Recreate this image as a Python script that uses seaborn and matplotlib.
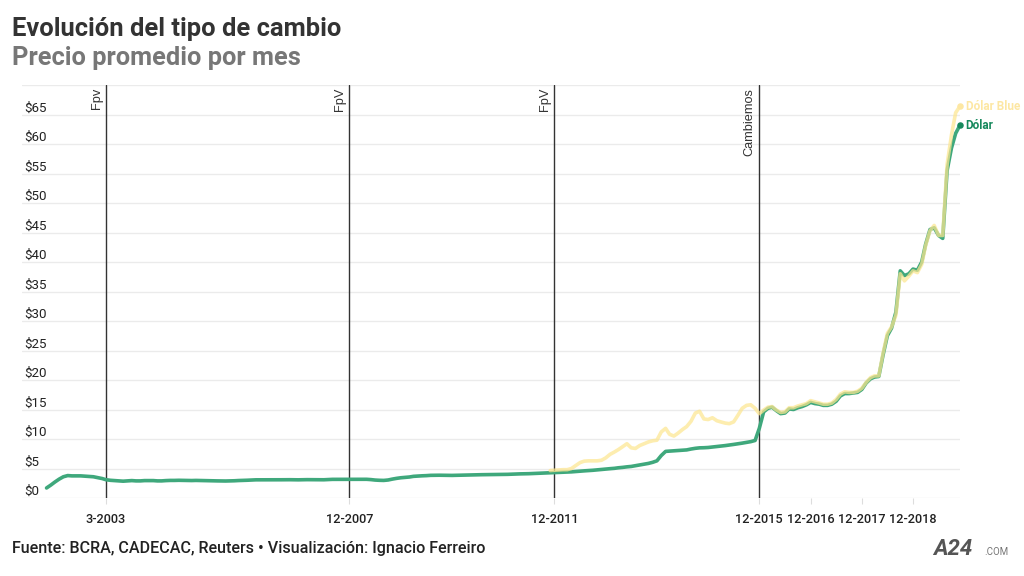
import matplotlib
matplotlib.use("Agg")
import matplotlib.pyplot as plt
import seaborn as sns
import pandas as pd

# ---------------- data ----------------
official_start = "2002-01"
official_values = [
    1.7, 2.2, 2.7, 3.2, 3.6, 3.8, 3.75, 3.75, 3.75, 3.7, 3.65, 3.6,          # 2002
    3.45, 3.3, 3.1, 3.0, 2.95, 2.9, 2.85, 2.9, 2.95, 2.9, 2.9, 2.95,         # 2003
    2.95, 2.95, 2.9, 2.9, 2.95, 2.98, 2.98, 3.0, 2.99, 2.97, 2.96, 2.98,     # 2004
    2.96, 2.94, 2.93, 2.91, 2.9, 2.89, 2.88, 2.9, 2.92, 2.96, 2.98, 3.01,    # 2005
    3.05, 3.08, 3.08, 3.07, 3.07, 3.09, 3.08, 3.09, 3.1, 3.1, 3.09, 3.08,    # 2006
    3.1, 3.11, 3.11, 3.1, 3.09, 3.09, 3.12, 3.16, 3.16, 3.17, 3.15, 3.15,    # 2007
    3.15, 3.16, 3.16, 3.17, 3.12, 3.04, 3.0, 2.98, 3.05, 3.2, 3.33, 3.43,    # 2008
    3.5, 3.56, 3.67, 3.72, 3.76, 3.79, 3.84, 3.85, 3.86, 3.85, 3.84, 3.83,   # 2009
    3.85, 3.88, 3.89, 3.9, 3.92, 3.94, 3.95, 3.96, 3.97, 3.98, 3.99, 4.0,    # 2010
    4.01, 4.04, 4.07, 4.09, 4.1, 4.12, 4.15, 4.19, 4.22, 4.25, 4.29, 4.32,   # 2011
    4.35, 4.37, 4.39, 4.43, 4.49, 4.54, 4.6, 4.65, 4.7, 4.77, 4.83, 4.9,     # 2012
    4.97, 5.03, 5.12, 5.19, 5.28, 5.35, 5.48, 5.62, 5.75, 5.86, 6.05, 6.3,   # 2013
    7.2, 7.9, 7.95, 8.0, 8.05, 8.13, 8.15, 8.3, 8.42, 8.5, 8.52, 8.56,       # 2014
    8.64, 8.71, 8.81, 8.88, 8.97, 9.08, 9.18, 9.3, 9.42, 9.55, 9.75, 11.8,   # 2015
    14.6, 15.2, 15.4, 14.8, 14.3, 14.4, 15.1, 15.0, 15.3, 15.5, 15.8, 16.2,  # 2016
    16.0, 15.9, 15.7, 15.7, 15.9, 16.4, 17.3, 17.7, 17.7, 17.8, 17.9, 18.4,  # 2017
    19.5, 20.2, 20.5, 20.6, 24.2, 27.5, 28.8, 31.5, 38.5, 37.7, 38.0, 38.8,  # 2018
    38.6, 40.0, 43.0, 45.5, 45.8, 44.5, 44.0, 55.5, 59.3, 61.8, 63.2,        # 2019
]

blue_start = "2011-11"
blue_values = [
    4.65, 4.7,                                                               # 2011
    4.75, 4.8, 4.8, 5.0, 5.5, 6.0, 6.25, 6.3, 6.3, 6.3, 6.4, 6.8,            # 2012
    7.4, 7.8, 8.2, 8.7, 9.2, 8.5, 8.4, 8.9, 9.2, 9.5, 9.7, 9.8,              # 2013
    11.2, 11.8, 10.8, 10.5, 11.0, 11.6, 12.1, 13.0, 14.4, 14.7, 13.4, 13.3,  # 2014
    13.6, 13.1, 12.9, 12.7, 12.6, 12.9, 14.0, 15.2, 15.7, 15.8, 15.2, 14.3,  # 2015
    14.9, 15.4, 15.5, 14.9, 14.5, 14.6, 15.3, 15.3, 15.6, 15.8, 16.0, 16.5,  # 2016
    16.3, 16.1, 15.9, 15.9, 16.1, 16.7, 17.6, 18.0, 17.9, 17.9, 18.1, 18.6,  # 2017
    19.6, 20.4, 20.7, 20.7, 24.5, 27.9, 29.0, 31.0, 38.0, 36.8, 37.6, 38.5,  # 2018
    38.2, 39.6, 42.8, 45.3, 46.2, 44.5, 44.5, 56.5, 61.5, 65.3, 66.4,        # 2019
]

series_names = ["Dólar", "Dólar Blue"]

event_dates = ["2003-03-01", "2007-12-01", "2011-12-01", "2015-12-01"]
event_labels = ["Fpv", "FpV", "FpV", "Cambiemos"]

xtick_dates = ["2003-03-01", "2007-12-01", "2011-12-01", "2015-12-01",
               "2016-12-01", "2017-12-01", "2018-12-01"]
xtick_labels = ["3-2003", "12-2007", "12-2011", "12-2015",
                "12-2016", "12-2017", "12-2018"]

ytick_values = [0, 5, 10, 15, 20, 25, 30, 35, 40, 45, 50, 55, 60, 65, 70]
ytick_labels = ["$0", "$5", "$10", "$15", "$20", "$25", "$30", "$35", "$40",
                "$45", "$50", "$55", "$60", "$65", ""]

title = "Evolución del tipo de cambio"
subtitle = "Precio promedio por mes"
footer = "Fuente: BCRA, CADECAC, Reuters • Visualización: Ignacio Ferreiro"

# ---------------- frames ----------------
df_off = pd.DataFrame({
    "fecha": pd.date_range(official_start, periods=len(official_values), freq="MS"),
    "precio": official_values,
})
df_blue = pd.DataFrame({
    "fecha": pd.date_range(blue_start, periods=len(blue_values), freq="MS"),
    "precio": blue_values,
})

# ---------------- style ----------------
sns.set_theme(style="white")
plt.rcParams["font.family"] = ["Roboto", "DejaVu Sans"]

GREEN = "#3fa87c"
GREEN_DARK = "#17895d"
YELLOW = "#fde690"
YELLOW_LBL = "#fde7a3"

fig = plt.figure(figsize=(10.24, 5.76), dpi=100)
ax = fig.add_axes([22 / 1024, 1 - 498 / 576, (960 - 22) / 1024, (498 - 85) / 576])

sns.lineplot(data=df_off, x="fecha", y="precio", ax=ax, color=GREEN,
             linewidth=2.6, zorder=3)
sns.lineplot(data=df_blue, x="fecha", y="precio", ax=ax, color=YELLOW,
             linewidth=2.6, alpha=0.72, zorder=4)

# end points
last_off = df_off.iloc[-1]
last_blue = df_blue.iloc[-1]
ax.scatter([last_off["fecha"]], [last_off["precio"]], s=22, color=GREEN_DARK,
           zorder=6, clip_on=False, linewidths=0)
ax.scatter([last_blue["fecha"]], [last_blue["precio"]], s=22, color=YELLOW_LBL,
           zorder=6, clip_on=False, linewidths=0)
ax.annotate(series_names[0], xy=(last_off["fecha"], last_off["precio"]),
            xytext=(4, 0), textcoords="offset points", va="center", ha="left",
            fontsize=8.5, fontweight="bold", color=GREEN_DARK, annotation_clip=False)
ax.annotate(series_names[1], xy=(last_blue["fecha"], last_blue["precio"]),
            xytext=(4, 0), textcoords="offset points", va="center", ha="left",
            fontsize=8.5, fontweight="bold", color=YELLOW_LBL, annotation_clip=False)

# event lines
for d, lbl in zip(event_dates, event_labels):
    dt = pd.Timestamp(d)
    ax.axvline(dt, color="#333333", linewidth=1.0, zorder=2)
    ax.annotate(lbl, xy=(dt, 70), xytext=(-2.5, -2), textcoords="offset points",
                rotation=90, ha="right", va="top", fontsize=9.2,
                family=["Liberation Sans", "DejaVu Sans"], color="#333333")

# axes limits
ax.set_xlim(pd.Timestamp("2001-07-10"), df_off["fecha"].iloc[-1])
ax.set_ylim(0, 70)

# grid
ax.set_yticks(ytick_values)
ax.set_yticklabels(ytick_labels)
ax.yaxis.grid(True, color="#ebebeb", linewidth=1.0, zorder=0)
ax.xaxis.grid(False)
for s in ax.spines.values():
    s.set_visible(False)

ax.tick_params(axis="y", length=0, pad=-1.5, labelsize=9.6, labelcolor="#222222")
for lbl in ax.get_yticklabels():
    lbl.set_horizontalalignment("left")
    lbl.set_verticalalignment("bottom")

ax.set_xticks([pd.Timestamp(d) for d in xtick_dates])
ax.set_xticklabels(xtick_labels)
ax.tick_params(axis="x", length=4, width=0.8, color="#dddddd", pad=7,
               labelsize=9.2, labelcolor="#222222", bottom=True)
for lbl in ax.get_xticklabels():
    lbl.set_fontweight("medium")

ax.set_xlabel("")
ax.set_ylabel("")

# titles
fig.text(12 / 1024, 1 - 29 / 576, title, fontsize=18.4, fontweight="bold",
         color="#333333", va="center", ha="left")
fig.text(12 / 1024, 1 - 58 / 576, subtitle, fontsize=18.3, fontweight="bold",
         color="#777777", va="center", ha="left")
fig.text(12 / 1024, 1 - 549 / 576, footer, fontsize=11.6, fontweight="medium",
         color="#222222", va="center", ha="left")

# logo
fig.text(933 / 1024, 1 - 549 / 576, "A24", fontsize=16, fontweight="bold",
         style="italic", color="#555555", va="center", ha="left")
fig.text(984 / 1024, 1 - 552 / 576, ".COM", fontsize=7, color="#777777",
         va="center", ha="left")

fig.savefig("out.png", dpi=100)
